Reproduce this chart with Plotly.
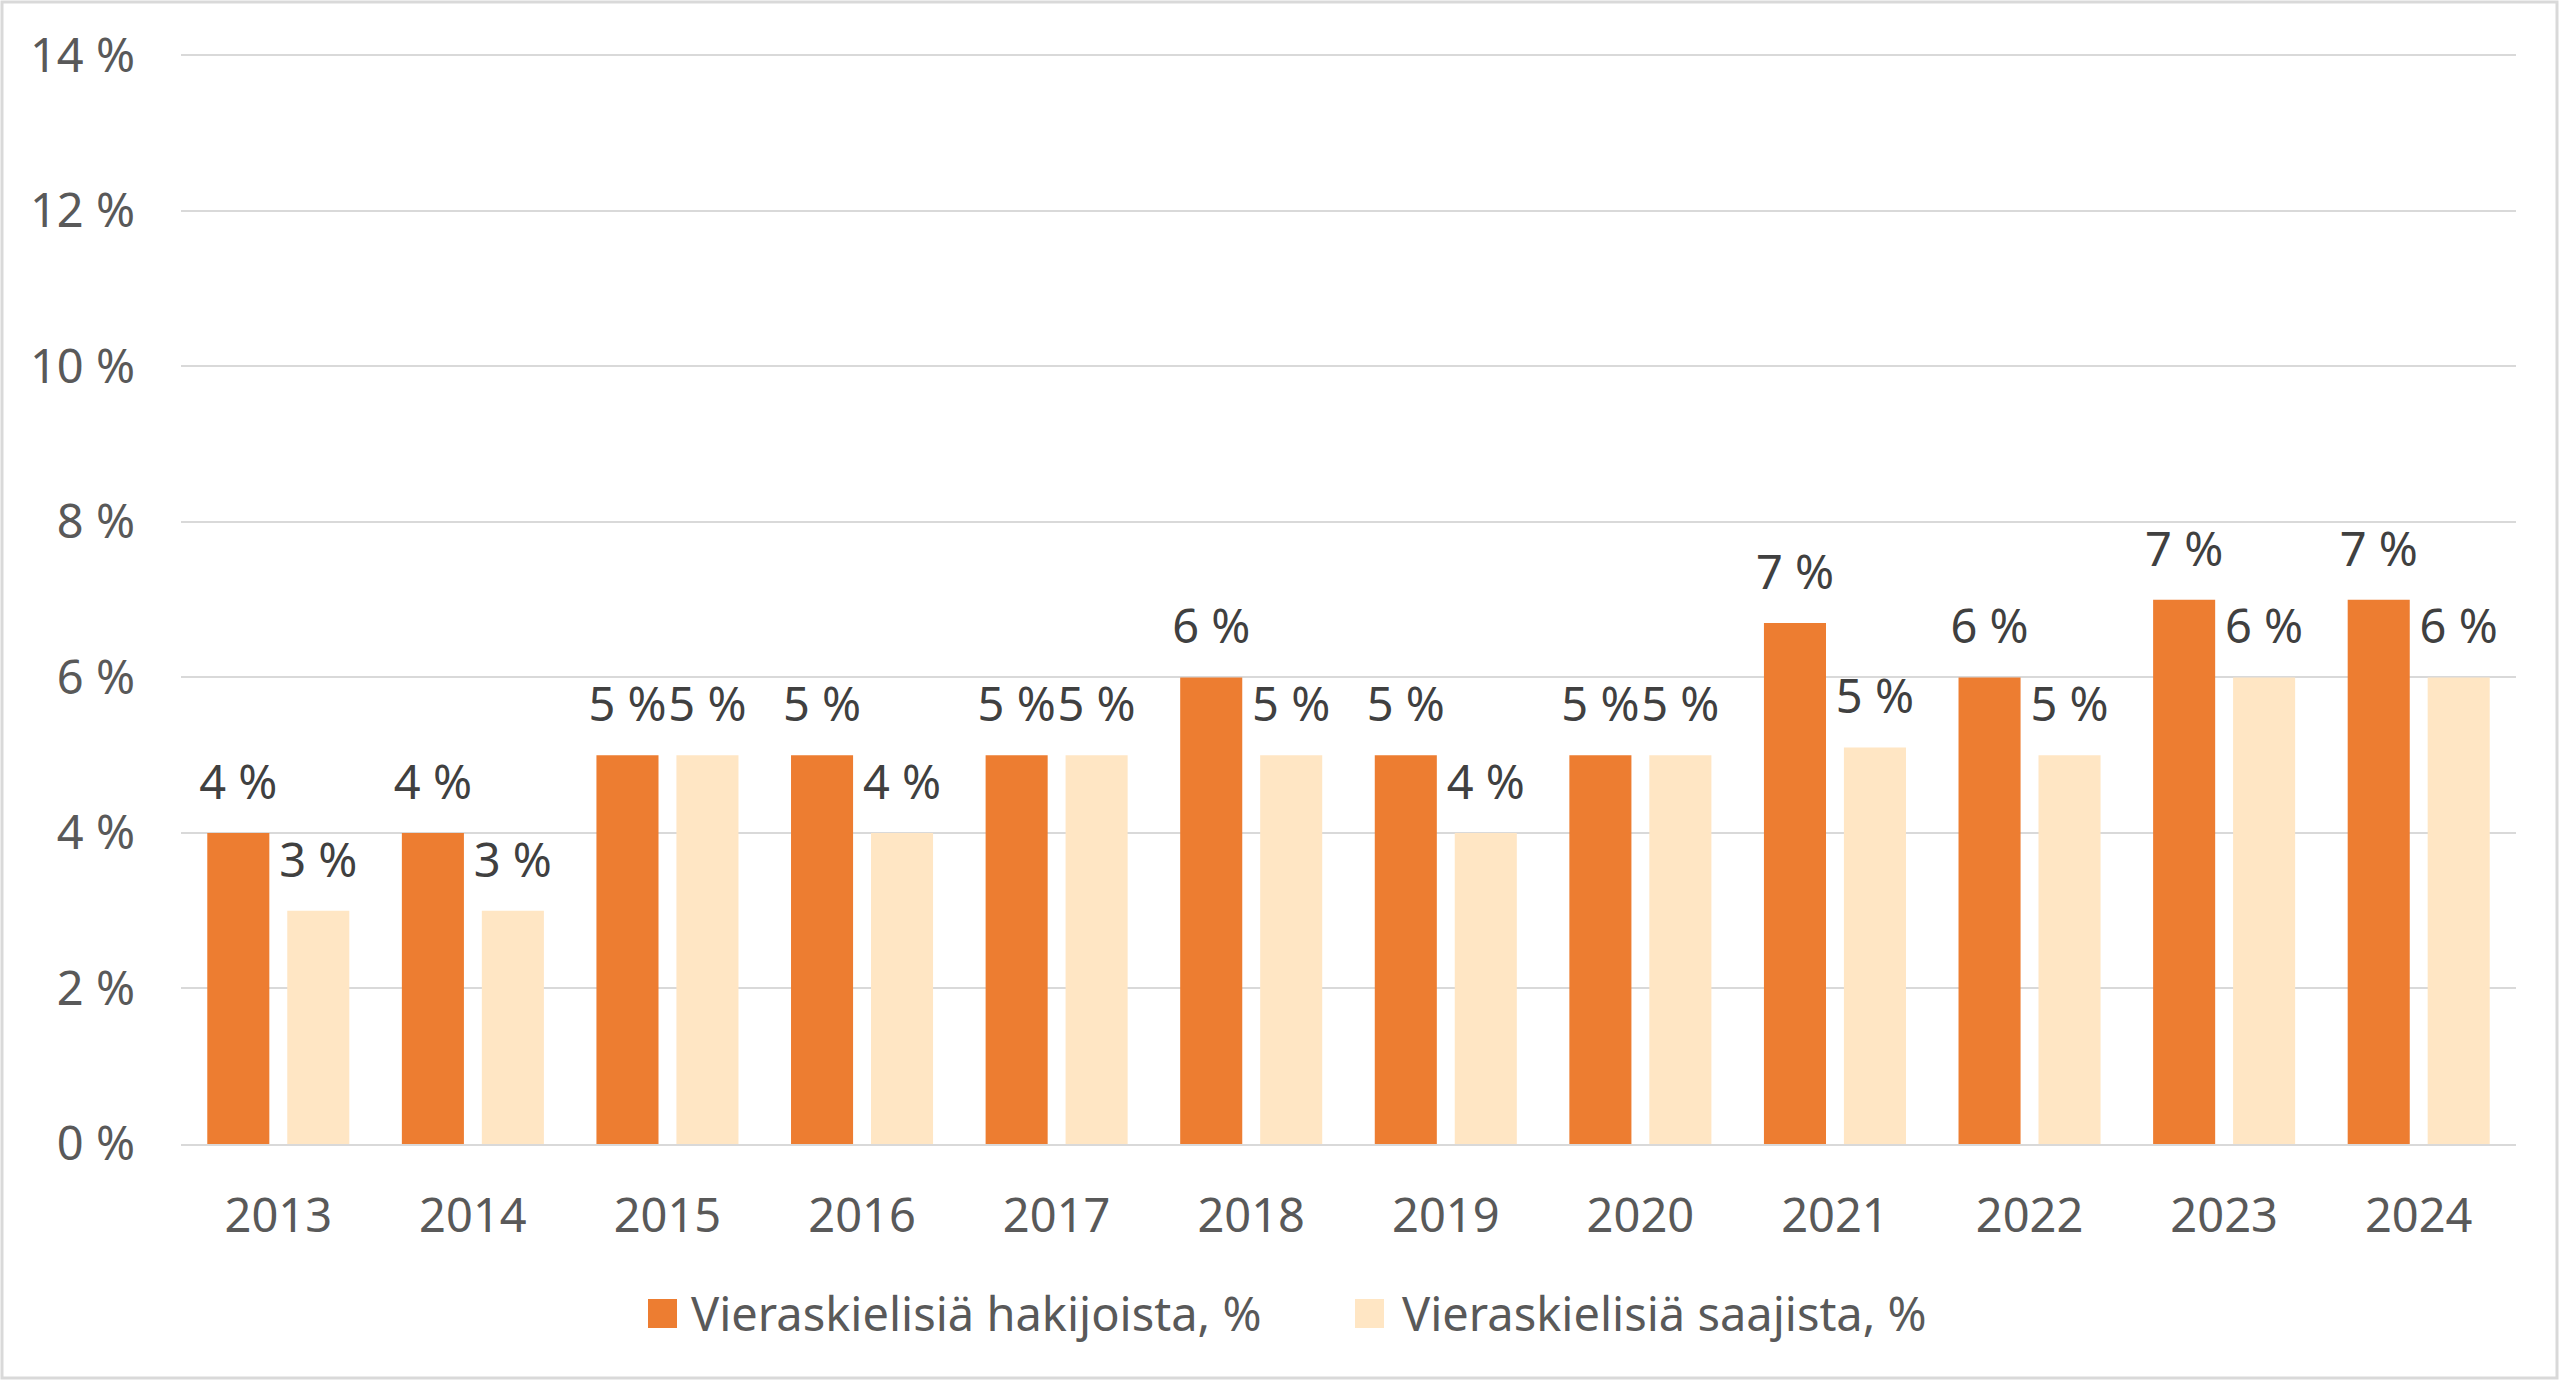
import plotly.graph_objects as go

years = ["2013", "2014", "2015", "2016", "2017", "2018", "2019", "2020", "2021", "2022", "2023", "2024"]
hakijoista = [4, 4, 5, 5, 5, 6, 5, 5, 6.7, 6, 7, 7]
saajista = [3, 3, 5, 4, 5, 5, 4, 5, 5.1, 5, 6, 6]
name_hak = "Vieraskielisiä hakijoista, %"
name_saa = "Vieraskielisiä saajista, %"
y_ticks = [0, 2, 4, 6, 8, 10, 12, 14]
y_tick_labels = ["0 %", "2 %", "4 %", "6 %", "8 %", "10 %", "12 %", "14 %"]

W, H = 2560, 1381
ML, MR, MT, MB = 181, 44, 53, 237
FONT = "Noto Sans"
FS = 47
C_HAK = "#ED7D31"
C_SAA = "#FFE6C4"
GAP = 0.178

fig = go.Figure()
for vals, name, col, grp in [(hakijoista, name_hak, C_HAK, "a"), (saajista, name_saa, C_SAA, "b")]:
    fig.add_trace(go.Bar(
        x=years, y=vals, name=name, showlegend=False,
        marker=dict(color=col, line=dict(width=0)),
        offsetgroup=grp, alignmentgroup="g",
    ))
for vals, grp in [(hakijoista, "a"), (saajista, "b")]:
    fig.add_trace(go.Scatter(
        x=years, y=vals, mode="markers+text", showlegend=False,
        marker=dict(size=34, opacity=0),
        text=[f"{round(v)} %" for v in vals], textposition="top center",
        textfont=dict(family=FONT, size=FS, color="#404040"),
        offsetgroup=grp, alignmentgroup="g", cliponaxis=False, hoverinfo="skip",
    ))

pw = W - ML - MR
ph = H - MT - MB


def px_x(x):
    return (x - ML) / pw


def px_y(y):
    return (H - MB - y) / ph


legend_items = [(name_hak, C_HAK, 648, 689), (name_saa, C_SAA, 1355, 1400)]
shapes = [dict(
    type="rect", xref="paper", yref="paper",
    x0=px_x(2), x1=px_x(W - 3), y0=px_y(H - 3), y1=px_y(2),
    line=dict(color="#D9D9D9", width=3), fillcolor="rgba(0,0,0,0)", layer="below",
)]
annotations = []
for name, col, sx, tx in legend_items:
    shapes.append(dict(
        type="rect", xref="paper", yref="paper",
        x0=px_x(sx), x1=px_x(sx + 29), y0=px_y(1328), y1=px_y(1299),
        line=dict(width=0), fillcolor=col,
    ))
    annotations.append(dict(
        xref="paper", yref="paper", x=px_x(tx), y=px_y(1313),
        xanchor="left", yanchor="middle", showarrow=False, text=name,
        font=dict(family=FONT, size=FS, color="#595959"),
    ))

fig.update_layout(
    width=W, height=H,
    margin=dict(l=ML, r=MR, t=MT, b=MB, autoexpand=False),
    paper_bgcolor="white", plot_bgcolor="white",
    barmode="group", bargap=GAP, bargroupgap=0.224,
    scattermode="group", scattergap=GAP,
    font=dict(family=FONT, size=FS, color="#595959"),
    showlegend=False,
    xaxis=dict(
        type="category", showgrid=False, ticks="", showline=True,
        linecolor="#D9D9D9", linewidth=2, ticklabelstandoff=30,
        tickfont=dict(family=FONT, size=FS, color="#595959"),
    ),
    yaxis=dict(
        range=[0, 14.03], tickvals=y_ticks, ticktext=y_tick_labels,
        showgrid=True, gridcolor="#D9D9D9", gridwidth=2,
        zeroline=False, showline=False, ticks="", ticklabelstandoff=45,
        tickfont=dict(family=FONT, size=FS, color="#595959"),
    ),
    shapes=shapes,
    annotations=annotations,
)

fig.write_html(
    "out.html",
    config={"displayModeBar": False},
    post_script="document.body.style.margin='0';document.body.style.overflow='hidden';",
)
